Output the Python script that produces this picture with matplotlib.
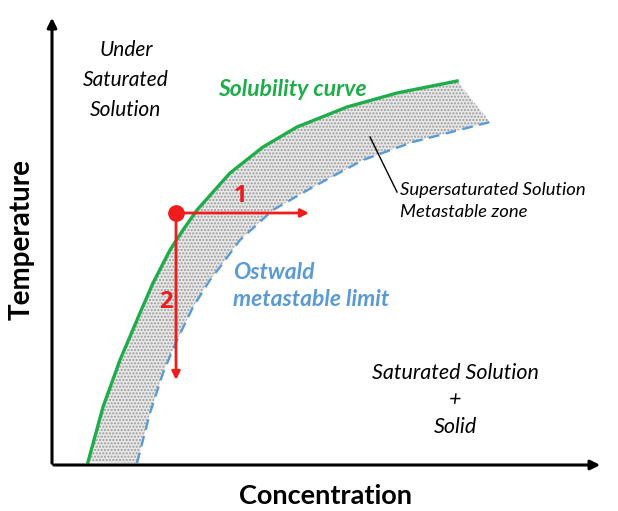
import numpy as np
import matplotlib.pyplot as plt

# Curve points (pixel-like units, y grows downwards)
sol_x = [88, 103, 120, 137, 153, 170, 183, 197, 230, 263, 297, 347, 397, 457]
sol_y = [462, 407, 360, 320, 283, 250, 230, 210, 173, 147, 127, 107, 93, 81]
ost_x = [137, 150, 163, 177, 193, 210, 220, 240, 273, 313, 363, 413, 490]
ost_y = [463, 413, 373, 340, 307, 280, 267, 240, 210, 187, 160, 142, 122]

# State point and the two paths
point = (176, 213)
path1_end = (309, 213)
path2_end = (176, 380)

plt.rcParams['font.family'] = ['Lato', 'DejaVu Sans']

fig = plt.figure(figsize=(6.18, 5.11), dpi=100)
ax = fig.add_axes([0, 0, 1, 1])
ax.set_xlim(0, 618)
ax.set_ylim(511, 0)
ax.axis('off')

# metastable zone between the two curves
poly_x = sol_x + ost_x[::-1]
poly_y = sol_y + ost_y[::-1]
ax.fill(poly_x, poly_y, facecolor='#e8e8e8', edgecolor='#9a9a9a', hatch='.....', linewidth=0)

ax.plot(sol_x, sol_y, color='#1fad4b', lw=2.4, solid_joinstyle='round')
ax.plot(ost_x, ost_y, color='#5b9bd5', lw=1.7, ls=(0, (4.5, 2.8)))

# axes arrows
ax.annotate('', xy=(52, 15), xytext=(52, 466),
            arrowprops=dict(arrowstyle='-|>', color='black', lw=2.2, mutation_scale=14))
ax.annotate('', xy=(603, 465), xytext=(51, 465),
            arrowprops=dict(arrowstyle='-|>', color='black', lw=2.2, mutation_scale=14))

ax.text(22, 240, 'Temperature', rotation=90, ha='center', va='center',
        fontsize=20, fontweight='bold')
ax.text(326, 496, 'Concentration', ha='center', va='center',
        fontsize=19.5, fontweight='bold')

# red paths
ax.annotate('', xy=path1_end, xytext=point,
            arrowprops=dict(arrowstyle='-|>', color='#ee1c1c', lw=2, mutation_scale=12,
                            shrinkA=0, shrinkB=0))
ax.annotate('', xy=path2_end, xytext=point,
            arrowprops=dict(arrowstyle='-|>', color='#ee1c1c', lw=2, mutation_scale=12,
                            shrinkA=0, shrinkB=0))
ax.plot(*point, 'o', color='#ee1c1c', ms=11)
ax.text(240, 196, '1', color='#ee1c1c', fontsize=17, fontweight='bold',
        family=['Open Sans', 'DejaVu Sans'], ha='center', va='center')
ax.text(166, 302, '2', color='#ee1c1c', fontsize=17, fontweight='bold',
        family=['Open Sans', 'DejaVu Sans'], ha='center', va='center')

# labels
ax.text(126, 80, 'Under\nSaturated\nSolution', ha='center', va='center',
        fontsize=15, style='italic', linespacing=1.65)
ax.text(292, 89, 'Solubility curve', color='#1fad4b', ha='center', va='center',
        fontsize=16.5, style='italic', fontweight='bold')
ax.text(400, 201, 'Supersaturated Solution\nMetastable zone', ha='left', va='center',
        fontsize=13.3, style='italic', linespacing=1.5)
ax.plot([370, 397], [137, 192], color='black', lw=1)
ax.text(233, 286, 'Ostwald\nmetastable limit', color='#5b9bd5', ha='left', va='center',
        fontsize=16.5, style='italic', fontweight='bold', linespacing=1.3)
ax.text(455, 400, 'Saturated Solution\n+\nSolid', ha='center', va='center',
        fontsize=15.5, style='italic', linespacing=1.45)

fig.savefig('out.png', dpi=100)
